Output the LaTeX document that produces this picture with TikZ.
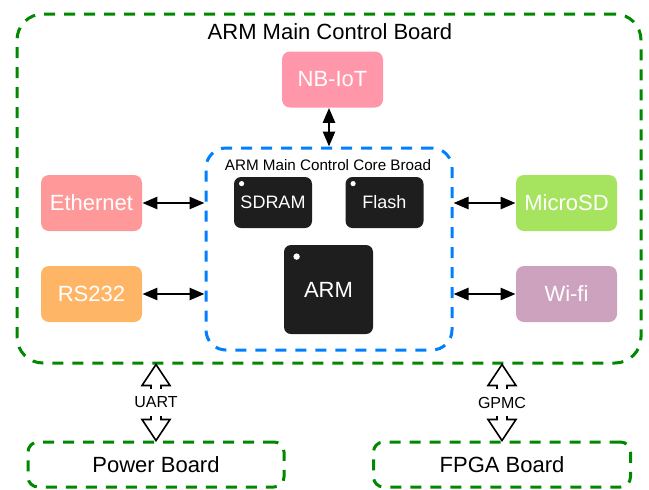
\documentclass[tikz,border=0pt]{standalone}
\usepackage{fontspec}
\setmainfont{Liberation Sans}
\usetikzlibrary{calc,arrows.meta}

\definecolor{boardgreen}{RGB}{0,136,0}
\definecolor{coreblue}{RGB}{0,127,255}
\definecolor{nbpink}{RGB}{255,150,170}
\definecolor{ethred}{RGB}{255,153,153}
\definecolor{rsorange}{RGB}{255,181,102}
\definecolor{sdgreen}{RGB}{166,227,94}
\definecolor{wifimauve}{RGB}{205,162,190}
\definecolor{chipgray}{RGB}{30,30,30}

\tikzset{
  board/.style={draw=boardgreen, line width=1.5pt, dash pattern=on 5.5pt off 4.5pt, inner sep=0pt},
  corebox/.style={draw=coreblue, line width=1.5pt, dash pattern=on 5.5pt off 4.5pt, rounded corners=10pt},
  periph/.style={fill=#1, rounded corners=4pt, minimum width=50.5pt, minimum height=28pt,
    inner sep=0pt, text=white, font=\fontsize{11}{13}\selectfont},
  chip/.style={fill=chipgray, rounded corners=3.5pt, inner sep=0pt, text=white},
  biarrow/.style={line width=1.3pt, {Triangle[length=7.5pt,width=6pt]}-{Triangle[length=7.5pt,width=6pt]}},
  lbl/.style={fill=white, inner xsep=1pt, inner ysep=4pt, font=\fontsize{8}{10}\selectfont}
}

\begin{document}
\begin{tikzpicture}[x=0.5pt,y=-0.5pt]
\useasboundingbox (0,0) rectangle (649,489);

% boards
\node[board, rounded corners=13pt, minimum width=312pt, minimum height=174.5pt] (main) at (329,188.5) {};
\node[font=\fontsize{11}{13}\selectfont] (title) at (330,32) {ARM Main Control Board};
\node[board, rounded corners=5pt, minimum width=128pt, minimum height=22.5pt, font=\fontsize{11}{13}\selectfont] (power) at (156,464.5) {Power Board};
\node[board, rounded corners=5pt, minimum width=128.5pt, minimum height=22.5pt, font=\fontsize{11}{13}\selectfont] (fpga) at (502,464.5) {FPGA Board};

% core board
\node[corebox, minimum width=123pt, minimum height=101pt] (core) at (329,249) {};
\node[font=\fontsize{7.6}{9}\selectfont] (coretitle) at (328,165) {ARM Main Control Core Broad};
\node[chip, minimum width=39pt, minimum height=25.5pt, font=\fontsize{9}{11}\selectfont] (sdram) at (273,202.5) {SDRAM};
\node[chip, minimum width=39pt, minimum height=25.5pt, font=\fontsize{9}{11}\selectfont] (flash) at (384.5,202.5) {Flash};
\node[chip, minimum width=44.5pt, minimum height=44.5pt, font=\fontsize{11}{13}\selectfont] (arm) at (328.5,289.5) {ARM};
\foreach \c/\dx/\dy/\r in {sdram/8/7/1.3pt, flash/8/7/1.3pt, arm/13/12/1.6pt}
  \fill[white] ($(\c.north west)+(\dx,\dy)$) circle (\r);

% peripherals
\node[periph=nbpink] (nbiot) at (332.5,79.5) {NB-IoT};
\node[periph=ethred] (eth) at (91.5,203) {Ethernet};
\node[periph=rsorange] (rs) at (91.5,294) {RS232};
\node[periph=sdgreen] (sd) at (566.5,203) {MicroSD};
\node[periph=wifimauve] (wifi) at (566.5,294) {Wi-fi};

\draw[biarrow] (nbiot.south -| core.north) -- (core.north);
\foreach \p in {eth, rs}
  \draw[biarrow] (\p.east) -- (\p.east -| core.west);
\foreach \p in {sd, wifi}
  \draw[biarrow] (\p.west) -- (\p.west -| core.east);

% bus arrows
\foreach \b/\t in {power/UART, fpga/GPMC} {
  \coordinate (top) at (\b.north |- main.south);
  \draw[line width=0.8pt, fill=white, line join=miter] (top) -- ++(14,21) -- ++(-9,0) -- ($(\b.north)+(5,-21)$) -- ++(9,0)
    -- (\b.north) -- ++(-14,-21) -- ++(9,0) -- ($(top)+(-5,21)$) -- ++(-9,0) -- cycle;
  \node[lbl] (\t) at ($(top)!0.5!(\b.north)$) {\t};
}
\end{tikzpicture}
\end{document}
